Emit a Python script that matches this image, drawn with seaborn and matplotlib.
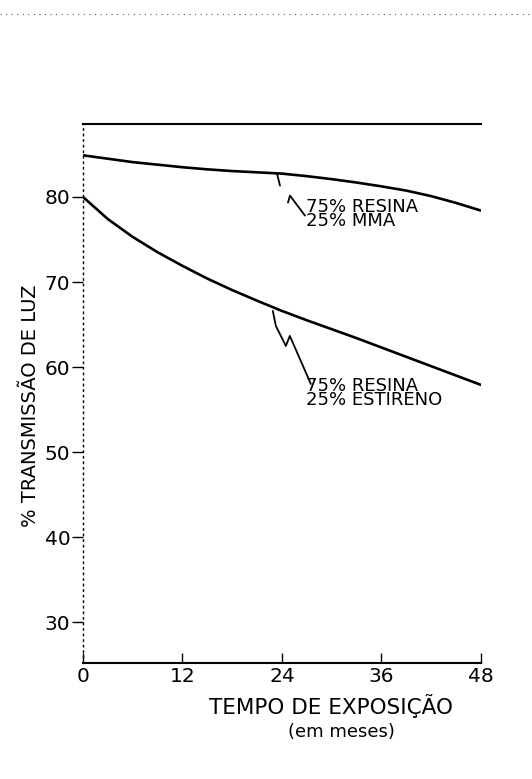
import matplotlib
matplotlib.use("Agg")
import matplotlib.pyplot as plt
import matplotlib.transforms as mtransforms
import seaborn as sns
import pandas as pd

# Light transmission over exposure time for two resin blends
meses = [0, 3, 6, 9, 12, 15, 18, 21, 24, 27, 30, 33, 36, 39, 42, 45, 48]
mma = [84.9, 84.5, 84.1, 83.8, 83.5, 83.25, 83.05, 82.9, 82.75,
       82.45, 82.1, 81.7, 81.25, 80.75, 80.1, 79.3, 78.4]
estireno = [80.0, 77.4, 75.3, 73.5, 71.9, 70.4, 69.05, 67.8, 66.6,
            65.5, 64.45, 63.4, 62.3, 61.2, 60.1, 59.0, 57.9]

xticks = [0, 12, 24, 36, 48]
yticks = [30, 40, 50, 60, 70, 80]
rotulo_mma = "75% RESINA\n25% MMA"
rotulo_estireno = "75% RESINA\n25% ESTIRENO"

df = pd.DataFrame({
    "meses": meses * 2,
    "transmissao": mma + estireno,
    "mistura": [rotulo_mma] * len(meses) + [rotulo_estireno] * len(meses),
})

sns.set_style("ticks")
plt.rcParams["font.family"] = ["DejaVu Sans"]
for key in ("text.color", "axes.labelcolor", "xtick.color", "ytick.color",
            "axes.edgecolor"):
    plt.rcParams[key] = "black"

fig = plt.figure(figsize=(5.32, 7.79), dpi=100)
ax = fig.add_axes([0.156, 0.149, 0.748, 0.692])

sns.lineplot(data=df, x="meses", y="transmissao", hue="mistura",
             palette=["black", "black"], linewidth=1.9, legend=False, ax=ax)

ax.set_xlim(0, 48)
ax.set_ylim(25.2, 88.6)
ax.set_xticks(xticks)
ax.set_yticks(yticks)
ax.tick_params(axis="y", labelsize=14.5, direction="out", length=8, width=1.0, pad=1)
ax.tick_params(axis="x", labelsize=14.5, direction="in", length=7, width=1.0, pad=3)

ax.spines["right"].set_visible(False)
ax.spines["left"].set_linestyle((0, (1, 3)))
ax.spines["left"].set_linewidth(1.0)
ax.spines["bottom"].set_linewidth(1.5)
ax.spines["top"].set_linewidth(1.5)

ax.set_xlabel("")
ax.set_ylabel("")
fig.text(31 / 532, 1 - 406 / 779, "% TRANSMISSÃO DE LUZ", rotation=90,
         ha="center", va="center", fontsize=14)
fig.text(0.622, 0.094, "TEMPO DE EXPOSIÇÃO", ha="center", va="center", fontsize=15.5)
fig.text(0.641, 0.060, "(em meses)", ha="center", va="center", fontsize=13)

# curve labels
ax.text(26.9, 78.0, rotulo_mma, fontsize=13, ha="left", va="center", linespacing=0.72)
ax.text(26.9, 57.0, rotulo_estireno, fontsize=13, ha="left", va="center", linespacing=0.72)


def leader(anchor, strokes):
    """Draw hand-drawn style leader strokes, given in pixel offsets from a curve point."""
    ox, oy = ax.transData.transform(anchor)
    t = mtransforms.Affine2D().translate(ox, oy)
    for stroke in strokes:
        xs = [p[0] for p in stroke]
        ys = [p[1] for p in stroke]
        ax.plot(xs, ys, color="black", lw=1.3, transform=t, clip_on=False,
                solid_capstyle="round")


i24 = meses.index(24)
leader((meses[i24] - 0.6, mma[i24]),
       [[(0, 0), (3, -12)],
        [(11, -29), (13, -22), (28, -42)]])
leader((meses[i24] - 1.1, estireno[i24]),
       [[(0, 0), (3, -15), (13, -35), (17, -25), (38, -73)]])

# dotted rule along the top of the page
fig.add_artist(plt.Line2D([0.0, 1.0], [0.982, 0.982], transform=fig.transFigure,
                          color="0.35", lw=0.8, linestyle=(0, (1, 4))))

fig.savefig("out.png", dpi=100, facecolor="white")
